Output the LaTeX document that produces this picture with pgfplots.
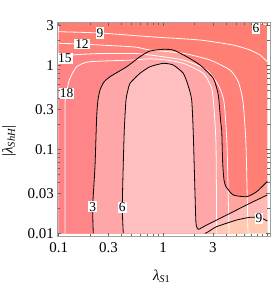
\documentclass[border=0pt]{standalone}
\usepackage{fontspec}
\setmainfont{Liberation Serif}
\usepackage{pgfplots}
\pgfplotsset{compat=1.18}
\definecolor{cSix}{RGB}{255,200,150}
\definecolor{cA}{RGB}{255,125,113}
\definecolor{cB}{RGB}{255,127,117}
\definecolor{cC}{RGB}{255,129,122}
\definecolor{cD}{RGB}{255,134,136}
\definecolor{cE}{RGB}{255,131,132}
\definecolor{cPeach}{RGB}{255,225,170}
\definecolor{frm}{RGB}{160,160,160}
\begin{document}
\begin{tikzpicture}
\begin{loglogaxis}[
  scale only axis, width=212.7bp, height=214.7bp,
  xmin=0.0970, xmax=10.61, ymin=0.00911, ymax=3.278,
  xtick={0.1,0.3,1,3}, xticklabels={0.1,0.3,1,3},
  ytick={0.01,0.03,0.1,0.3,1,3}, yticklabels={0.01,0.03,0.1,0.3,1,3},
  minor xtick={0.2,0.4,0.5,0.6,0.7,0.8,0.9,2,4,5,6,7,8,9,10},
  minor ytick={0.02,0.04,0.05,0.06,0.07,0.08,0.09,0.2,0.4,0.5,0.6,0.7,0.8,0.9,2},
  tick align=inside, major tick length=4bp, minor tick length=2.5bp,
  axis line style={frm, line width=0.6bp},
  every tick/.style={black!60, line width=0.5bp},
  axis on top,
  ticklabel style={font=\fontsize{15}{18}\selectfont},
  xticklabel style={yshift=-2bp},
  label style={font=\fontsize{15}{18}\selectfont},
  xlabel={\textit{λ}\textsubscript{\textit{S}1}},
  ylabel={|\textit{λ}\textsubscript{\textit{ShH}}|},
  xlabel style={at={(axis description cs:0.491,-0.186)}, anchor=center},
  ylabel style={at={(axis description cs:-0.227,0.446)}, anchor=center},
]
% white-function bands
\addplot[draw=none, fill=cA] coordinates {(0.1,0.01) (10,0.01) (10,3.162) (0.1,3.162)};
\addplot[draw=none, fill=cB] coordinates {(0.1,2.512) (0.2489,2.424) (0.7507,2.19) (2.263,2.0) (4.69,1.744) (6.826,1.521) (8.511,1.326) (10,1.104) (10,0.01) (0.1,0.01)};
\addplot[draw=none, fill=cC] coordinates {(0.1,1.828) (0.1673,1.793) (0.2489,1.744) (0.5389,1.651) (0.7507,1.521) (1.565,1.39) (2.822,1.156) (4.389,0.879) (5.272,0.638) (5.848,0.369) (6.249,0.1125) (6.531,0.01) (0.1,0.01)};
\addplot[draw=none, fill=cE] coordinates {(0.1,1.222) (0.1332,1.326) (0.2489,1.382) (0.5389,1.382) (0.7507,1.326) (1.565,1.156) (2.624,0.879) (3.39,0.583) (3.845,0.369) (4.108,0.1125) (4.294,0.01) (0.1,0.01)};
\addplot[draw=none, fill=cD] coordinates {(0.1149,0.01) (0.1149,0.3215) (0.1188,0.4642) (0.1264,0.6683) (0.1488,0.9624) (0.1995,1.104) (0.5191,1.156) (0.7507,1.195) (1.085,1.156) (1.565,1.056) (2.434,0.803) (2.93,0.5325) (3.083,0.3076) (3.223,0.1125) (3.272,0.01)};
\addplot[draw=none, fill=cSix] coordinates {(8.70,3.162) (9.506,3.06) (10,2.937) (10,3.162)};
% black-function bands (lightening overlays)
\addplot[draw=none, fill=white, fill opacity=0.27] coordinates {(0.2147,0.01) (0.2118,0.0207) (0.2229,0.0621) (0.2313,0.244) (0.2381,0.386) (0.2489,0.508) (0.2718,0.633) (0.3102,0.732) (0.4487,0.962) (0.6016,1.266) (0.7507,1.48) (1.007,1.55) (1.255,1.521) (1.687,1.266) (2.263,1.008) (3.036,0.700) (3.39,0.443) (3.574,0.213) (3.654,0.170) (3.736,0.0681) (3.845,0.0431) (4.018,0.0359) (4.721,0.0286) (6.347,0.0273) (7.913,0.0313) (10,0.0415) (10,0.01)};
\addplot[draw=none, fill=white, fill opacity=0.27] coordinates {(0.4163,0.01) (0.4072,0.0204) (0.4163,0.0681) (0.4256,0.170) (0.4418,0.386) (0.4617,0.508) (0.4826,0.611) (0.6016,0.803) (0.7507,0.962) (1.007,1.056) (1.255,1.008) (1.565,0.803) (1.736,0.583) (1.884,0.386) (1.952,0.155) (2.027,0.0299) (2.072,0.01315) (2.18,0.01116) (2.624,0.01256) (4.08,0.0165) (6.826,0.0228) (10,0.0286) (10,0.01)};
\addplot[draw=none, fill=cPeach, fill opacity=0.38] coordinates {(2.528,0.01) (2.719,0.01045) (3.272,0.012) (5.089,0.0144) (6.826,0.0155) (7.913,0.0155) (8.897,0.0151) (10,0.014) (10,0.01)};
% white contour lines
\addplot[white, line width=0.8bp, smooth, tension=0.35] coordinates {(0.1,2.512) (0.2489,2.424) (0.7507,2.19) (2.263,2.0) (4.69,1.744) (6.826,1.521) (8.511,1.326) (10,1.104)};
\addplot[white, line width=0.8bp, smooth, tension=0.35] coordinates {(0.1,1.828) (0.1673,1.793) (0.2489,1.744) (0.5389,1.651) (0.7507,1.521) (1.565,1.39) (2.822,1.156) (4.389,0.879) (5.272,0.638) (5.848,0.369) (6.249,0.1125) (6.531,0.01)};
\addplot[white, line width=0.8bp, smooth, tension=0.35] coordinates {(0.1,1.222) (0.1332,1.326) (0.2489,1.382) (0.5389,1.382) (0.7507,1.326) (1.565,1.156) (2.624,0.879) (3.39,0.583) (3.845,0.369) (4.108,0.1125) (4.294,0.01)};
\addplot[white, line width=0.8bp, smooth, tension=0.35] coordinates {(0.1149,0.01) (0.1149,0.3215) (0.1188,0.4642) (0.1264,0.6683) (0.1488,0.9624) (0.1995,1.104) (0.5191,1.156) (0.7507,1.195) (1.085,1.156) (1.565,1.056) (2.434,0.803) (2.93,0.5325) (3.083,0.3076) (3.223,0.1125) (3.272,0.01)};
\addplot[white, line width=0.8bp] coordinates {(8.70,3.162) (9.506,3.06) (10,2.937)};
% black contour lines
\addplot[black, line width=0.8bp, smooth, tension=0.35] coordinates {(0.2147,0.01) (0.2118,0.0207) (0.2229,0.0621) (0.2313,0.244) (0.2381,0.386) (0.2489,0.508) (0.2718,0.633) (0.3102,0.732) (0.4487,0.962) (0.6016,1.266) (0.7507,1.48) (1.007,1.55) (1.255,1.521) (1.687,1.266) (2.263,1.008) (3.036,0.700) (3.39,0.443) (3.574,0.213) (3.654,0.170) (3.736,0.0681) (3.845,0.0431) (4.018,0.0359) (4.721,0.0286) (6.347,0.0273) (7.913,0.0313) (10,0.0415)};
\addplot[black, line width=0.8bp, smooth, tension=0.35] coordinates {(0.4163,0.01) (0.4072,0.0204) (0.4163,0.0681) (0.4256,0.170) (0.4418,0.386) (0.4617,0.508) (0.4826,0.611) (0.6016,0.803) (0.7507,0.962) (1.007,1.056) (1.255,1.008) (1.565,0.803) (1.736,0.583) (1.884,0.386) (1.952,0.155) (2.027,0.0299) (2.072,0.01315) (2.18,0.01116) (2.624,0.01256) (4.08,0.0165) (6.826,0.0228) (10,0.0286)};
\addplot[black, line width=0.8bp, smooth, tension=0.35] coordinates {(2.528,0.01) (2.719,0.01045) (3.272,0.012) (5.089,0.0144) (6.826,0.0155) (7.913,0.0155) (8.897,0.0151) (10,0.014)};
% contour labels
\tikzset{clab/.style={fill=white, inner sep=1bp, font=\fontsize{13.5}{15}\selectfont}}
\node[clab] at (axis cs:0.2118,0.0207) {3};
\node[clab] at (axis cs:0.4072,0.0204) {6};
\node[clab] at (axis cs:8.325,0.0151) {9};
\node[clab] at (axis cs:0.2489,2.424) {9};
\node[clab] at (axis cs:0.1673,1.793) {12};
\node[clab] at (axis cs:0.1149,1.212) {15};
\node[clab] at (axis cs:0.1193,0.4642) {18};
\node[clab] at (axis cs:7.794,2.757) {6};
\end{loglogaxis}
\pgfresetboundingbox
\path[use as bounding box] ([shift={(-57.3bp,-48.3bp)}]current axis.south west) rectangle ([shift={(8bp,22bp)}]current axis.north east);
\end{tikzpicture}
\end{document}
